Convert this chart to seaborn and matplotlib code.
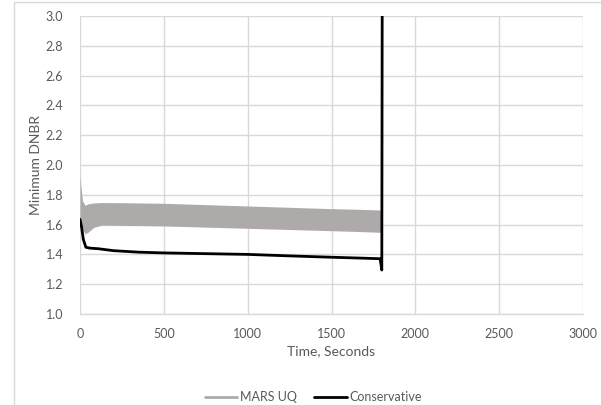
import matplotlib
matplotlib.use("Agg")
import matplotlib.pyplot as plt
from matplotlib.lines import Line2D
import numpy as np
import pandas as pd
import seaborn as sns

# MARS UQ envelope (min / max over the uncertainty runs)
uq_time = [0, 5, 15, 30, 50, 80, 130, 250, 500, 750, 1000, 1250, 1500, 1650, 1795]
uq_upper = [1.93, 1.86, 1.76, 1.73, 1.74, 1.745, 1.748, 1.747, 1.743, 1.734, 1.725, 1.716, 1.707, 1.703, 1.698]
uq_lower = [1.62, 1.60, 1.57, 1.537, 1.55, 1.58, 1.597, 1.595, 1.591, 1.583, 1.575, 1.567, 1.559, 1.554, 1.548]

# Conservative calculation
cons_time = [0, 10, 20, 35, 60, 110, 200, 350, 500, 750, 1000, 1250, 1500, 1650, 1790, 1800, 1805]
cons_dnbr = [1.636, 1.58, 1.50, 1.448, 1.442, 1.438, 1.425, 1.415, 1.41, 1.405, 1.40, 1.39, 1.381, 1.376, 1.371, 1.295, 5.0]

x_ticks = [0, 500, 1000, 1500, 2000, 2500, 3000]
y_ticks = [1.0, 1.2, 1.4, 1.6, 1.8, 2.0, 2.2, 2.4, 2.6, 2.8, 3.0]

sns.set_theme(style="whitegrid")
plt.rcParams["font.family"] = ["Lato", "DejaVu Sans"]

GRID = "#d9d9d9"
TEXT = "#595959"
BAND = "#aeaaaa"

fig = plt.figure(figsize=(6.01, 4.05), dpi=100)
ax = fig.add_axes([80 / 601, 1 - 314 / 405, 503 / 601, 298 / 405])

ax.fill_between(uq_time, uq_lower, uq_upper, color=BAND, linewidth=0, zorder=2)

cons = pd.DataFrame({"Time": cons_time, "DNBR": cons_dnbr})
sns.lineplot(data=cons, x="Time", y="DNBR", sort=False, color="black",
             linewidth=2.0, ax=ax, zorder=3)

ax.set_xlim(0, 3000)
ax.set_ylim(1.0, 3.0)
ax.set_xticks(x_ticks)
ax.set_yticks(y_ticks)
ax.set_xticklabels([str(v) for v in x_ticks])
ax.set_yticklabels([f"{v:.1f}" for v in y_ticks])
ax.tick_params(axis="both", colors=TEXT, labelsize=9, length=0)
ax.tick_params(axis="x", pad=10)
ax.tick_params(axis="y", pad=12)
ax.grid(True, color=GRID, linewidth=1.0)
for side, sp in ax.spines.items():
    sp.set_visible(side == "bottom")
ax.spines["bottom"].set_color(GRID)
ax.spines["bottom"].set_linewidth(1.0)
ax.set_facecolor("white")

ax.set_xlabel("Time, Seconds", color=TEXT, fontsize=10, labelpad=4)
ax.set_ylabel("Minimum DNBR", color=TEXT, fontsize=10, labelpad=3)

handles = [Line2D([0], [0], color=BAND, linewidth=2.0),
           Line2D([0], [0], color="black", linewidth=2.0)]
fig.legend(handles, ["MARS UQ", "Conservative"], loc="center",
           bbox_to_anchor=(313 / 601, 1 - 397 / 405), ncol=2, frameon=False,
           fontsize=9, labelcolor=TEXT, handlelength=2.6, handletextpad=0.2,
           columnspacing=1.4)

# chart area border
fig.add_artist(Line2D([13.5 / 601, 13.5 / 601], [0, 1 - 1.5 / 405],
                      color=GRID, linewidth=1.0, transform=fig.transFigure))
fig.add_artist(Line2D([13.5 / 601, 1], [1 - 1.5 / 405, 1 - 1.5 / 405],
                      color=GRID, linewidth=1.0, transform=fig.transFigure))

fig.savefig("out.png", dpi=100, facecolor="white")
